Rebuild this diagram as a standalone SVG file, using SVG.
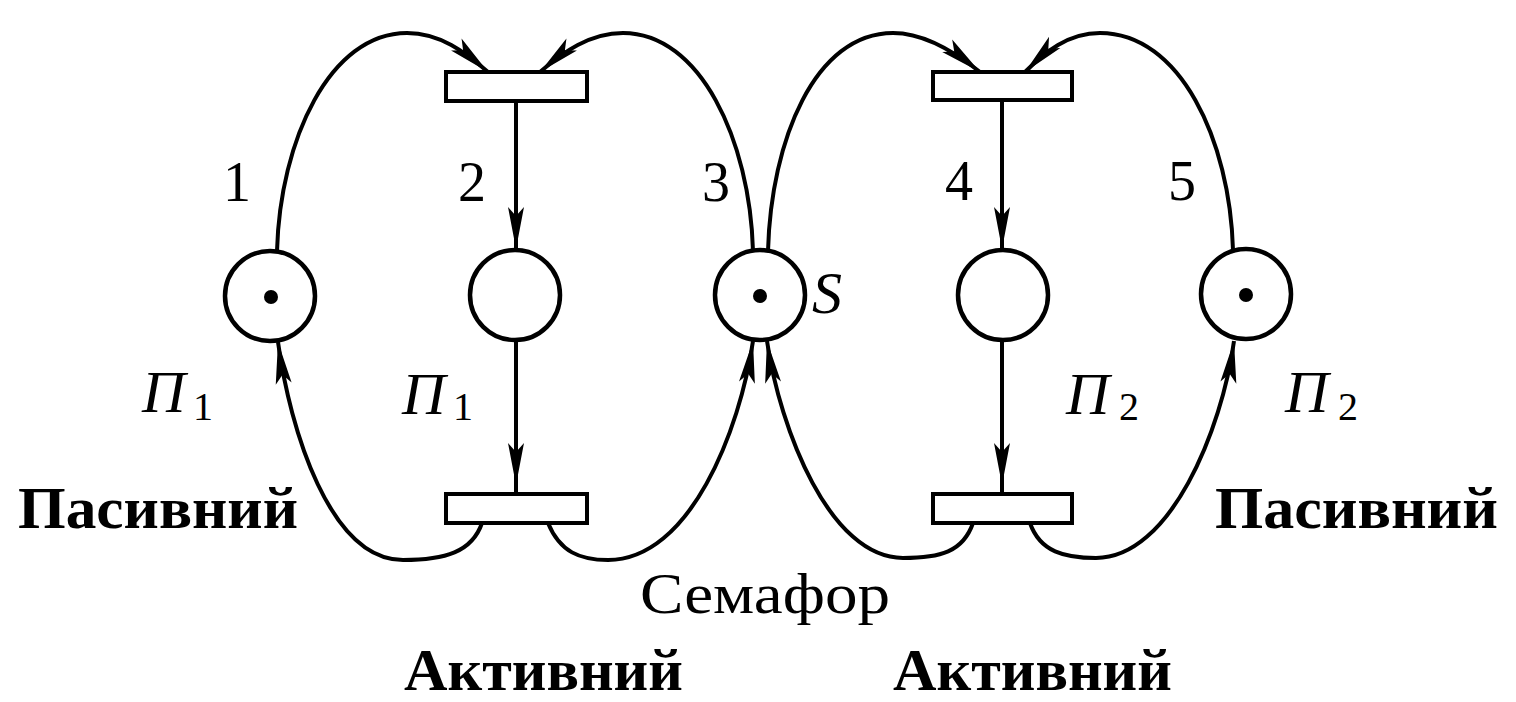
<svg xmlns="http://www.w3.org/2000/svg" width="1516" height="702" viewBox="0 0 1516 702">
<style>
.place{fill:#fff;stroke:#000;stroke-width:4.5}
.token{fill:#000}
.trans{fill:#fff;stroke:#000;stroke-width:4}
.arc{fill:none;stroke:#000;stroke-width:4}
.num{font-family:"Liberation Serif",serif;font-size:56px;fill:#000;text-anchor:middle}
.pi{font-family:"Liberation Serif",serif;font-style:italic;font-size:60px;fill:#000}
.sub{font-family:"Liberation Serif",serif;font-size:40px;fill:#000}
.lbl{font-family:"Liberation Serif",serif;font-weight:bold;font-size:60px;fill:#000}
.sem{font-family:"Liberation Serif",serif;font-size:56px;fill:#000}
</style>
<defs>
<marker id="ah" markerUnits="userSpaceOnUse" markerWidth="50" markerHeight="24" viewBox="-46 -12 50 24" refX="0" refY="0" orient="auto" overflow="visible">
<path d="M0,0 L-42,-8 L-33,0 L-42,8 Z" fill="#000"/>
</marker>
<marker id="ahOff" markerUnits="userSpaceOnUse" markerWidth="50" markerHeight="24" viewBox="-46 -12 50 24" refX="9" refY="0" orient="auto" overflow="visible">
<path d="M0,0 L-42,-8 L-33,0 L-42,8 Z" fill="#000"/>
</marker>
</defs>
<rect width="1516" height="702" fill="#fff"/>

<g id="connectors">
<path class="arc" d="M277 251 C280 140 330 33 407 33 C440 33 465 52 488 72" marker-end="url(#ah)"/>
<path class="arc" d="M753 251 C750 140 700 33 623 33 C590 33 563 52 540 72" marker-end="url(#ah)"/>
<path class="arc" d="M768 251 C771 140 815 33 893 33 C925 33 955 52 980 72" marker-end="url(#ah)"/>
<path class="arc" d="M1233 250 C1230 140 1180 33 1100 33 C1068 33 1045 52 1025 72" marker-end="url(#ah)"/>
<path class="arc" d="M516 101 V249" marker-end="url(#ah)"/>
<path class="arc" d="M516 341 V494" marker-end="url(#ahOff)"/>
<path class="arc" d="M1002 100 V249" marker-end="url(#ah)"/>
<path class="arc" d="M1002 340 V494" marker-end="url(#ahOff)"/>
<path class="arc" d="M482 523 C472 552 445 560 403 560 C330 560 290 430 278 342" marker-end="url(#ah)"/>
<path class="arc" d="M548 523 C560 552 580 560 608 560 C690 560 740 430 753 341" marker-end="url(#ah)"/>
<path class="arc" d="M973 523 C963 552 940 558 903 558 C830 558 780 430 767 341" marker-end="url(#ah)"/>
<path class="arc" d="M1030 523 C1040 552 1065 558 1096 558 C1170 558 1222 430 1234 341" marker-end="url(#ah)"/>
</g>

<g id="P1"><circle class="place" cx="270" cy="296" r="45"/><circle class="token" cx="271" cy="297" r="7"/></g>
<g id="P2"><circle class="place" cx="515" cy="295" r="45"/></g>
<g id="S"><circle class="place" cx="760" cy="295" r="45"/><circle class="token" cx="760" cy="296" r="7"/></g>
<g id="P4"><circle class="place" cx="1003" cy="295" r="45"/></g>
<g id="P5"><circle class="place" cx="1246" cy="294" r="45"/><circle class="token" cx="1246" cy="295" r="7"/></g>

<g id="T1"><rect class="trans" x="446" y="72" width="141" height="29"/></g>
<g id="T2"><rect class="trans" x="933" y="72" width="139" height="28"/></g>
<g id="T3"><rect class="trans" x="446" y="494" width="141" height="29"/></g>
<g id="T4"><rect class="trans" x="933" y="494" width="139" height="29"/></g>

<g id="labels">
<text class="num" x="237" y="201">1</text>
<text class="num" x="472" y="201">2</text>
<text class="num" x="716" y="201">3</text>
<text class="num" x="959" y="200">4</text>
<text class="num" x="1182" y="200">5</text>
<text class="pi" x="142" y="412">П</text><text class="sub" x="193" y="420">1</text>
<text class="pi" x="402" y="414">П</text><text class="sub" x="453" y="420">1</text>
<text class="pi" x="1066" y="414">П</text><text class="sub" x="1119" y="420">2</text>
<text class="pi" x="1285" y="412">П</text><text class="sub" x="1338" y="420">2</text>
<text class="pi" x="812" y="313">S</text>
<text class="lbl" x="18" y="528" textLength="280" lengthAdjust="spacingAndGlyphs">Пасивний</text>
<text class="lbl" x="1215" y="528" textLength="283" lengthAdjust="spacingAndGlyphs">Пасивний</text>
<text class="sem" x="640" y="613" textLength="250" lengthAdjust="spacingAndGlyphs">Семафор</text>
<text class="lbl" x="404" y="690" textLength="279" lengthAdjust="spacingAndGlyphs">Активний</text>
<text class="lbl" x="893" y="690" textLength="279" lengthAdjust="spacingAndGlyphs">Активний</text>
</g>
</svg>
